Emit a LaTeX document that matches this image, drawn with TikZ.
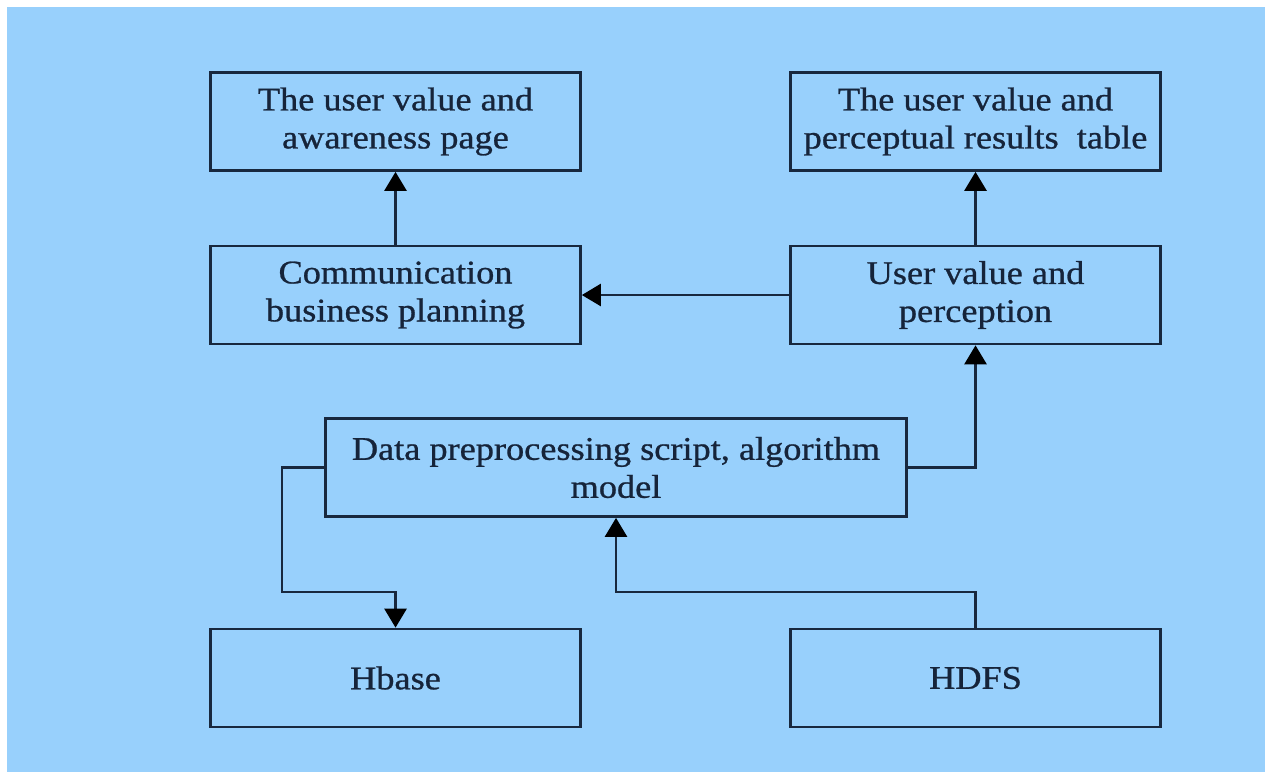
\documentclass[tikz,border=0pt]{standalone}
\usepackage{fontspec}
\setmainfont{Liberation Serif}[FakeStretch=1.1,FakeBold=0.8]
\usetikzlibrary{arrows.meta}
\definecolor{skyback}{RGB}{152,208,252}
\definecolor{inkline}{RGB}{24,40,62}
\definecolor{inktext}{RGB}{22,36,58}
\begin{document}
\begin{tikzpicture}[x=1pt,y=-1pt,
  box/.style={draw=inkline,line width=2.7pt,minimum width=370pt,minimum height=98pt,
    inner sep=0pt,align=center,text=inktext,font=\fontsize{33}{38}\selectfont},
  arr/.style={draw=inkline,line width=2.7pt,
    -{Triangle[length=19pt,width=22pt,fill=black,color=black]}}]
\useasboundingbox (0,0) rectangle (1265,772);
\fill[skyback] (7,7) rectangle (1265,772);

% boxes
\node[box] (A) at (395.5,121.5) {The user value and\\awareness page};
\node[box] (B) at (975.5,121.5) {The user value and\\perceptual results\ \ table};
\node[box] (C) at (395.5,295) {Communication\\business planning};
\node[box] (D) at (975.5,295) {User value and\\perception};
\node[box,minimum width=581pt] (E) at (616,467.5) {Data preprocessing script, algorithm\\model};
\node[box] (F) at (395.5,678) {Hbase};
\node[box] (G) at (975.5,678) {HDFS};

% bend points
\coordinate (j1) at (282,592);
\coordinate (j2) at (616,592);

% connectors
\draw[arr] (C.north) -- (A.south);
\draw[arr] (D.north) -- (B.south);
\draw[arr] (D.west) -- (C.east);
\draw[arr] (E.east) -| (D.south);
\draw[arr] (E.west) -| (j1) -| (F.north);
\draw[arr] (G.north) |- (j2) -- (E.south);
\end{tikzpicture}
\end{document}
